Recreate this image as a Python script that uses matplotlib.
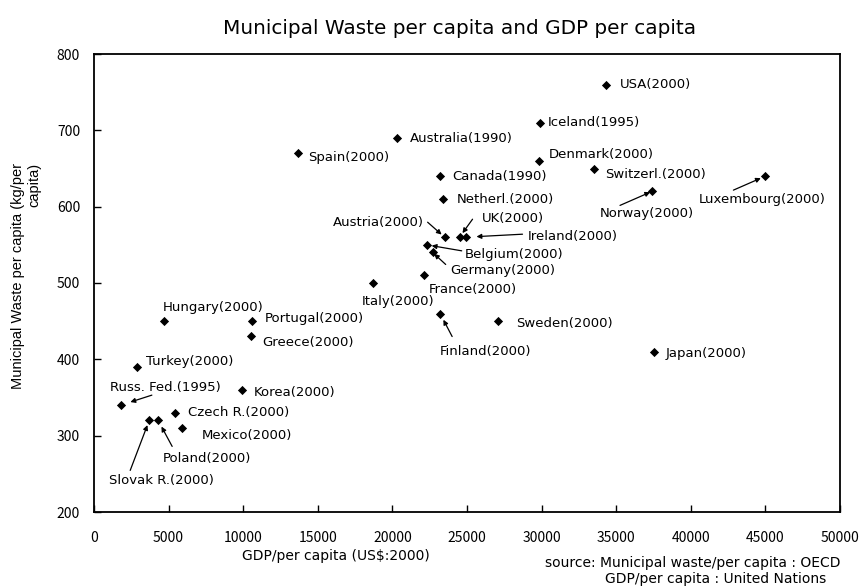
import matplotlib
matplotlib.use("Agg")
import matplotlib.pyplot as plt

# ---------------- data ----------------
countries = ["USA(2000)", "Iceland(1995)", "Denmark(2000)", "Switzerl.(2000)", "Norway(2000)",
             "Luxembourg(2000)", "Canada(1990)", "Netherl.(2000)", "Australia(1990)", "Spain(2000)",
             "Austria(2000)", "UK(2000)", "Ireland(2000)", "Belgium(2000)", "Germany(2000)",
             "France(2000)", "Italy(2000)", "Finland(2000)", "Sweden(2000)", "Japan(2000)",
             "Hungary(2000)", "Portugal(2000)", "Greece(2000)", "Turkey(2000)", "Russ. Fed.(1995)",
             "Korea(2000)", "Czech R.(2000)", "Mexico(2000)", "Slovak R.(2000)", "Poland(2000)"]
gdp = [34300, 29900, 29800, 33500, 37400,
       45000, 23200, 23400, 20300, 13700,
       23500, 24500, 24900, 22300, 22700,
       22100, 18700, 23200, 27100, 37500,
       4700, 10600, 10500, 2900, 1800,
       9900, 5400, 5900, 3700, 4300]
waste = [760, 710, 660, 650, 620,
         640, 640, 610, 690, 670,
         560, 560, 560, 550, 540,
         510, 500, 460, 450, 410,
         450, 450, 430, 390, 340,
         360, 330, 310, 320, 320]

x_ticks = [0, 5000, 10000, 15000, 20000, 25000, 30000, 35000, 40000, 45000, 50000]
y_ticks = [200, 300, 400, 500, 600, 700, 800]

title = "Municipal Waste per capita and GDP per capita"
xlabel = "GDP/per capita (US$:2000)"
ylabel = "Municipal Waste per capita (kg/per\ncapita)"
source1 = "source: Municipal waste/per capita : OECD"
source2 = "GDP/per capita : United Nations"

# ---------------- label layout (pixel offsets from marker; style only) ----------------
# name: (dx, dy, ha, arrow_tail or None, head_gap_px)
layout = {
    "USA(2000)": (14, 0, "left", None, 0),
    "Iceland(1995)": (8, 0, "left", None, 0),
    "Denmark(2000)": (10, 6, "left", None, 0),
    "Switzerl.(2000)": (11, -6, "left", None, 0),
    "Norway(2000)": (-52, -22, "left", (-32, -14), 2),
    "Luxembourg(2000)": (-67, -23, "left", (-32, -14), 5),
    "Canada(1990)": (12, 0, "left", None, 0),
    "Netherl.(2000)": (14, 0, "left", None, 0),
    "Australia(1990)": (13, -1, "left", None, 0),
    "Spain(2000)": (10, -4, "left", None, 0),
    "Austria(2000)": (-21, 15, "right", (-17, 15), 4),
    "UK(2000)": (22, 19, "left", (13, 18), 5),
    "Ireland(2000)": (62, 1, "left", (57, 3), 11),
    "Belgium(2000)": (38, -10, "left", (35, -6), 5),
    "Germany(2000)": (18, -18, "left", (13, -12), 2),
    "France(2000)": (5, -14, "left", None, 0),
    "Italy(2000)": (-11, -18, "left", None, 0),
    "Finland(2000)": (0, -38, "left", (12, -23), 7),
    "Sweden(2000)": (18, -2, "left", None, 0),
    "Japan(2000)": (12, -2, "left", None, 0),
    "Hungary(2000)": (-1, 14, "left", None, 0),
    "Portugal(2000)": (13, 3, "left", None, 0),
    "Greece(2000)": (12, -6, "left", None, 0),
    "Turkey(2000)": (9, 5, "left", None, 0),
    "Russ. Fed.(1995)": (-11, 18, "left", (31, 10), 10),
    "Korea(2000)": (12, -3, "left", None, 0),
    "Czech R.(2000)": (13, 0, "left", None, 0),
    "Mexico(2000)": (20, -7, "left", None, 0),
    "Slovak R.(2000)": (-40, -60, "left", (-19, -50), 5),
    "Poland(2000)": (5, -38, "left", (14, -26), 7),
}

plt.rcParams["font.family"] = ["DejaVu Sans"]
TICKFONT = ["Noto Sans CJK JP", "DejaVu Sans"]

W, H = 862, 587
fig = plt.figure(figsize=(W / 100, H / 100), dpi=100)
ax = fig.add_axes([94 / W, 1 - 512 / H, (840 - 94) / W, (512 - 54) / H])

ax.scatter(gdp, waste, marker="D", s=22, color="black", zorder=3, linewidths=0)

for name, xv, yv in zip(countries, gdp, waste):
    dx, dy, ha, tail, gap = layout[name]
    ax.annotate(name, xy=(xv, yv), xytext=(dx, dy), textcoords="offset pixels",
                ha=ha, va="center", fontsize=9.5, color="black")
    if tail is not None:
        ax.annotate("", xy=(xv, yv), xytext=tail, textcoords="offset pixels",
                    arrowprops=dict(arrowstyle="-|>", color="black", lw=0.9,
                                    mutation_scale=7, shrinkA=0, shrinkB=gap * 0.72))

ax.set_xlim(0, 50000)
ax.set_ylim(200, 800)
ax.set_xticks(x_ticks)
ax.set_yticks(y_ticks)
ax.tick_params(direction="in", length=5, width=1, labelsize=10, pad=10)
ax.tick_params(axis="x", pad=14)
for lab in ax.get_xticklabels() + ax.get_yticklabels():
    lab.set_family(TICKFONT)
for sp in ax.spines.values():
    sp.set_linewidth(1.3)

fig.text(460 / W, 1 - 28 / H, title, ha="center", va="center", fontsize=14.4)
fig.text(336 / W, 1 - 556 / H, xlabel, ha="center", va="center", fontsize=10)
fig.text(841 / W, 1 - 563 / H, source1, ha="right", va="center", fontsize=10)
fig.text(826 / W, 1 - 579 / H, source2, ha="right", va="center", fontsize=10)
fig.text(26 / W, 1 - 276 / H, ylabel, ha="center", va="center", rotation=90,
         multialignment="right", fontsize=10.5, linespacing=1.2,
         family=["Liberation Sans", "DejaVu Sans"])

fig.savefig("out.png", dpi=100)
